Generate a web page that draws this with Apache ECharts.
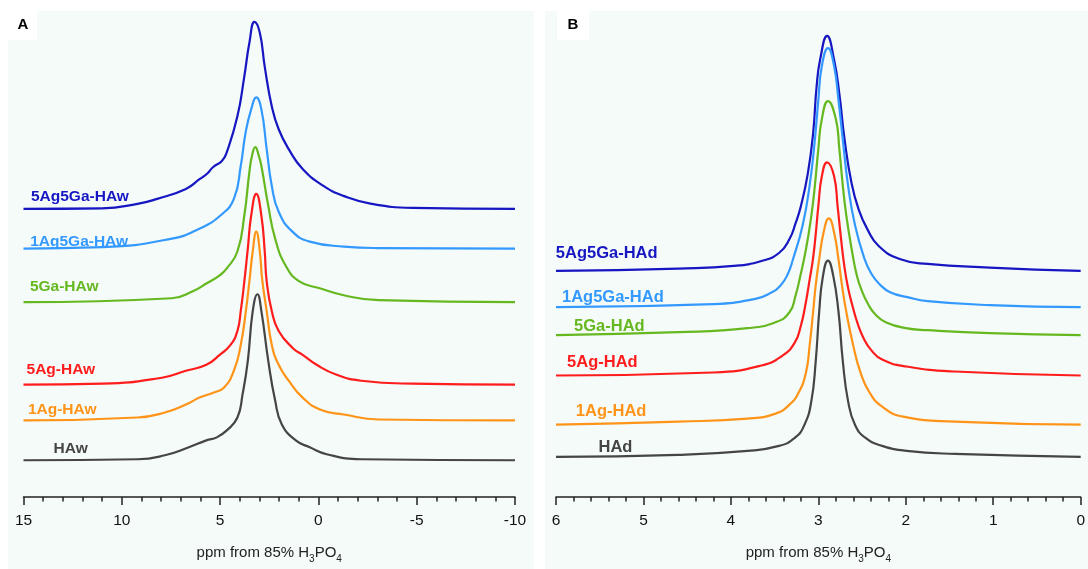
<!DOCTYPE html>
<html style="height: 100%">
<head>
<meta charset="UTF-8">
<title>31P NMR spectra</title>
<script src="https://cdn.jsdelivr.net/npm/echarts@6/dist/echarts.min.js"></script>
</head>
<body style="height: 100%; margin: 0; background: #fff">
<div id="container" style="width: 1088px; height: 569px"></div>
<script type="text/javascript">
// ---- panel A (wet samples), x in ppm, y = height above own baseline (a.u.)
var wetNames = ['5Ag5Ga-HAw', '1Ag5Ga-HAw', '5Ga-HAw', '5Ag-HAw', '1Ag-HAw', 'HAw'];
var wetOffsets = [290, 250, 196, 113, 77, 37];
var wetLabelAt = [[12.13, 302.5], [12.17, 257], [12.93, 211.5], [13.1, 128.5], [13.03, 87.5], [12.6, 48.5]];

var w5Ag5Ga = [[15,0],[11,0.5],[9.2,5],[8.2,10],[6.74,20],[6.03,30],[5.68,35],[5.35,42],[4.91,48],[4.66,57],[4.12,93],[3.77,133],[3.51,167],[3.25,188],[2.98,177],[2.73,143],[2.37,103],[2.02,80],[1.51,60],[0.8,40],[-0.26,23],[-1.28,13],[-2.7,5],[-4.8,1],[-10,0]];
var w1Ag5Ga = [[15,0],[11,1.5],[7.45,10],[6.05,20],[5.0,33],[4.3,50],[3.95,83],[3.7,117],[3.42,140],[3.16,152],[2.9,140],[2.63,100],[2.37,63],[2.02,37],[1.32,17],[0.44,7],[-1.3,2],[-3,0.5],[-10,0]];
var w5Ga = [[15,0],[7.45,4],[6.39,11],[5.68,19],[5.02,27],[4.66,34],[4.12,51],[3.77,87],[3.51,131],[3.37,148],[3.21,156],[3.04,148],[2.9,137],[2.55,97],[2.2,64],[1.67,37],[0.97,21],[-0.07,14],[-1.29,7],[-3.06,2],[-10,0]];
var w5Ag = [[15,0],[10.96,1],[7.96,7],[6.74,14],[5.7,20],[5.02,30],[4.47,40],[4.12,54],[3.95,74],[3.75,107],[3.59,137],[3.42,170],[3.16,192],[2.9,170],[2.73,134],[2.63,104],[2.37,74],[2.02,54],[1.31,37],[0.8,30],[0.09,20],[-0.93,10],[-2.18,4],[-4.79,1],[-10,0]];
var w1Ag = [[15,0],[9.2,3],[7.81,8],[6.74,16],[6.05,23],[5.35,28],[4.81,33],[4.3,50],[3.95,76],[3.69,110],[3.51,140],[3.34,170],[3.16,190],[2.98,170],[2.86,142],[2.63,110],[2.37,76],[2.02,56],[1.51,40],[0.8,23],[-0.08,11],[-1.29,6],[-3.06,1],[-10,0]];
var wHA = [[15,0],[9.2,1],[7.81,5],[6.59,13],[5.7,20],[5.17,23],[4.66,30],[4.12,43],[3.86,66],[3.59,100],[3.34,150],[3.1,167],[2.9,150],[2.55,100],[2.2,60],[1.86,36],[1.15,20],[0.44,13],[-0.42,6],[-2.18,1],[-10,0]];
var wetData = [w5Ag5Ga, w1Ag5Ga, w5Ga, w5Ag, w1Ag, wHA];

// ---- panel B (dried samples)
var dryNames = ['5Ag5Ga-HAd', '1Ag5Ga-HAd', '5Ga-HAd', '5Ag-HAd', '1Ag-HAd', 'HAd'];
var dryOffsets = [227, 190.7, 162.5, 122, 72.7, 40.3];
var dryLabelAt = [[5.42, 245], [5.35, 200.5], [5.39, 171.5], [5.47, 135.5], [5.37, 85.5], [5.32, 50]];

var d5Ag5Ga = [[6,0],[4.6,2.4],[3.97,5],[3.65,10],[3.45,18],[3.33,32],[3.26,48],[3.2,65],[3.12,98],[3.06,138],[3.02,185],[2.98,212],[2.9,236],[2.82,212],[2.76,178],[2.7,132],[2.62,88],[2.54,62],[2.44,42],[2.31,25],[2.07,12],[1.75,7],[1.04,3.4],[0,0]];
var d1Ag5Ga = [[6,0],[4.2,3],[3.73,8],[3.55,14],[3.43,22],[3.35,33],[3.29,48],[3.18,82],[3.1,122],[3.04,168],[3.0,208],[2.96,242],[2.89,260],[2.82,242],[2.77,208],[2.72,168],[2.66,122],[2.58,82],[2.47,48],[2.39,33],[2.3,23],[2.18,15],[1.98,10],[1.75,6],[1.04,2],[0,0]];
var d5Ga = [[6,0],[4.6,3],[3.81,7],[3.49,13],[3.33,23],[3.26,40],[3.21,58],[3.14,87],[3.08,120],[3.04,150],[3.0,187],[2.96,217],[2.89,235],[2.8,217],[2.76,187],[2.72,150],[2.68,120],[2.62,87],[2.56,60],[2.5,44],[2.43,31],[2.35,21],[2.23,13],[2.0,7],[1.75,5],[1.04,2],[0,0]];
var d5Ag = [[6,0],[4.2,3],[3.65,10],[3.41,20],[3.27,33],[3.2,50],[3.15,70],[3.1,96],[3.06,118],[3.03,142],[3.0,170],[2.96,200],[2.9,214],[2.82,200],[2.78,170],[2.74,137],[2.7,108],[2.66,88],[2.61,70],[2.55,52],[2.48,37],[2.4,26],[2.27,16],[1.99,9],[1.44,4],[0,0]];
var d1Ag = [[6,0],[4.6,3],[3.81,6],[3.49,11],[3.33,20],[3.22,33],[3.14,53],[3.1,79],[3.06,113],[3.03,140],[2.99,166],[2.94,193],[2.88,207],[2.82,193],[2.77,166],[2.73,140],[2.68,113],[2.6,79],[2.52,53],[2.42,33],[2.27,18],[2.03,8],[1.44,3],[0,0]];
var dHA = [[6,0],[4.6,2],[3.81,6],[3.45,11],[3.27,19],[3.16,32],[3.08,56],[3.03,96],[2.99,146],[2.95,180],[2.89,197],[2.83,182],[2.77,146],[2.72,96],[2.66,56],[2.58,32],[2.46,19],[2.27,11],[1.99,6],[1.44,3],[0,0]];
var dryData = [d5Ag5Ga, d1Ag5Ga, d5Ga, d5Ag, d1Ag, dHA];

var colors = ['#1616c2', '#3399ff', '#66b820', '#ff1c1c', '#ff9418', '#454545'];
var FONT = '"Liberation Sans", Arial, sans-serif';

function stackUp(data, off) {
  return data.map(function (p) { return [p[0], p[1] + off]; });
}

function makeSeries(names, datas, offsets, labelAt, idx, fs) {
  return names.map(function (n, i) {
    return {
      name: n,
      type: 'line',
      xAxisIndex: idx,
      yAxisIndex: idx,
      data: stackUp(datas[i], offsets[i]),
      showSymbol: false,
      smooth: 0.5,
      lineStyle: { width: 2.2, color: colors[i] },
      markPoint: {
        symbol: 'circle',
        symbolSize: 0,
        silent: true,
        label: {
          show: true, position: 'inside', formatter: n,
          color: colors[i], fontSize: fs, fontWeight: 'bold', fontFamily: FONT
        },
        data: [{ coord: labelAt[i] }]
      }
    };
  });
}

function xAxisOf(idx, min, max, interval) {
  return {
    gridIndex: idx,
    type: 'value',
    inverse: true,
    min: min,
    max: max,
    interval: interval,
    name: 'ppm from 85% H{s|3}PO{s|4}',
    nameLocation: 'middle',
    nameGap: 45,
    nameTextStyle: {
      fontSize: 15, color: '#222', fontFamily: FONT,
      rich: { s: { fontSize: 10, color: '#222', fontFamily: FONT, padding: [12, 0, 0, 0] } }
    },
    axisLine: { lineStyle: { color: '#222', width: 1.5 } },
    axisTick: { length: 8, lineStyle: { color: '#222', width: 1.5 } },
    minorTick: { show: true, splitNumber: 5, length: 4.5, lineStyle: { color: '#222', width: 1.5 } },
    axisLabel: { margin: 16, fontSize: 15.5, color: '#111', fontFamily: FONT },
    splitLine: { show: false }
  };
}

var dom = document.getElementById('container');
var myChart = echarts.init(dom, null, { renderer: 'canvas' });
var option = {
  animation: false,
  backgroundColor: '#ffffff',
  graphic: [
    { type: 'rect', z: -10, shape: { x: 8, y: 11, width: 526, height: 558 }, style: { fill: '#f4fbf8' } },
    { type: 'rect', z: -9, shape: { x: 8, y: 11, width: 29, height: 29 }, style: { fill: '#ffffff' } },
    { type: 'text', z: -8, x: 23, y: 25, style: { text: 'A', fill: '#000', font: 'bold 15px ' + FONT, align: 'center', verticalAlign: 'middle' } },
    { type: 'rect', z: -10, shape: { x: 545, y: 11, width: 543, height: 558 }, style: { fill: '#f4fbf8' } },
    { type: 'rect', z: -9, shape: { x: 557, y: 11, width: 32, height: 29 }, style: { fill: '#ffffff' } },
    { type: 'text', z: -8, x: 573, y: 25, style: { text: 'B', fill: '#000', font: 'bold 15px ' + FONT, align: 'center', verticalAlign: 'middle' } }
  ],
  grid: [
    { left: 23.5, right: 573, top: 11, bottom: 69 },
    { left: 556, right: 2, top: 11, bottom: 70 }
  ],
  xAxis: [xAxisOf(0, -10, 15, 5), xAxisOf(1, 0, 6, 1)],
  yAxis: [
    { gridIndex: 0, type: 'value', min: 0, max: 489, show: false, splitLine: { show: false } },
    { gridIndex: 1, type: 'value', min: 0, max: 488, show: false, splitLine: { show: false } }
  ],
  series: makeSeries(wetNames, wetData, wetOffsets, wetLabelAt, 0, 15.5)
    .concat(makeSeries(dryNames, dryData, dryOffsets, dryLabelAt, 1, 16.5))
};
myChart.setOption(option);
</script>
</body>
</html>
